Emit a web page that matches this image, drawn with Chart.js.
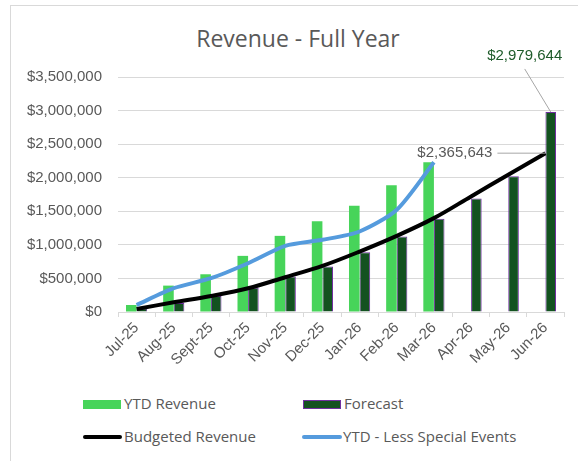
<!DOCTYPE html>
<html>
<head>
<meta charset="utf-8">
<script src="https://cdn.jsdelivr.net/npm/chart.js@4.4.1/dist/chart.umd.min.js"></script>
<style>
  body { margin: 0; background: #fff; }
  #wrap { position: relative; width: 578px; height: 461px; overflow: hidden; }
  #frame { position: absolute; left: 10px; top: 5px; width: 600px; height: 500px;
           border-left: 1px solid #d9d9d9; border-top: 1px solid #d9d9d9; }
  #chart { position: absolute; left: 0; top: 0; }
  #title { position: absolute; left: 98px; width: 400px; top: 22px; text-align: center;
           font-family: "Open Sans", sans-serif; font-size: 23px; line-height: 32px; color: #595959; }
  .lg { position: absolute; font-family: "Open Sans", sans-serif; font-size: 15px; color: #595959;
        line-height: 16px; white-space: nowrap; }
  .sw { position: absolute; }
</style>
</head>
<body>
<div id="wrap">
  <div id="frame"></div>
  <div id="title">Revenue - Full Year</div>
  <canvas id="chart" width="578" height="390"></canvas>
  <div id="legend"></div>
</div>
<script>
const months = ['Jul-25', 'Aug-25', 'Sept-25', 'Oct-25', 'Nov-25', 'Dec-25',
  'Jan-26', 'Feb-26', 'Mar-26', 'Apr-26', 'May-26', 'Jun-26'];
const ytdRevenue = [104000, 393000, 562000, 836000, 1134000, 1353000, 1582000, 1886000, 2229000, null, null, null];
const forecast = [55000, 135000, 239000, 363000, 527000, 676000, 891000, 1124000, 1388000, 1691000, 2020000, 2979644];
const budgeted = [45000, 145000, 239000, 354000, 518000, 687000, 900000, 1134000, 1398000, 1721000, 2045000, 2365643];
const lessEvents = [104000, 354000, 503000, 726000, 985000, 1075000, 1199000, 1522000, 2229000, null, null, null];
const yTicks = [0, 500000, 1000000, 1500000, 2000000, 2500000, 3000000, 3500000];

const money = v => '$' + Math.round(v).toLocaleString('en-US');
const tickFont = { family: '"Liberation Sans", Arial, sans-serif', size: 15 };

// callout labels for the last forecast bar and the last budget point
const callouts = {
  id: 'callouts',
  afterDatasetsDraw(chart) {
    const ctx = chart.ctx;
    const last = months.length - 1;
    const bar = chart.getDatasetMeta(1).data[last];
    const pt = chart.getDatasetMeta(2).data[last];
    ctx.save();
    ctx.font = '15px "Liberation Sans", Arial, sans-serif';
    ctx.strokeStyle = '#a6a6a6';
    ctx.lineWidth = 1;

    // forecast label
    ctx.beginPath();
    ctx.moveTo(bar.x - 26, bar.y - 43);
    ctx.lineTo(bar.x, bar.y);
    ctx.stroke();
    ctx.fillStyle = '#1e5b2a';
    ctx.textAlign = 'center';
    ctx.textBaseline = 'middle';
    ctx.fillText(money(forecast[last]), bar.x - 26, bar.y - 56);

    // budget label
    ctx.beginPath();
    ctx.moveTo(pt.x - 48, pt.y);
    ctx.lineTo(pt.x, pt.y);
    ctx.stroke();
    ctx.fillStyle = '#595959';
    ctx.textAlign = 'right';
    ctx.fillText(money(budgeted[last]), pt.x - 53, pt.y);
    ctx.restore();
  }
};

new Chart(document.getElementById('chart'), {
  type: 'bar',
  data: {
    labels: months,
    datasets: [
      { label: 'YTD Revenue', data: ytdRevenue, backgroundColor: '#47d45a', borderWidth: 0, order: 2 },
      { label: 'Forecast', data: forecast, backgroundColor: '#135220', borderColor: '#7030a0', borderWidth: 1, order: 3 },
      { type: 'line', label: 'Budgeted Revenue', data: budgeted, borderColor: '#000', borderWidth: 4,
        pointRadius: 0, tension: 0.35, order: 1 },
      { type: 'line', label: 'YTD - Less Special Events', data: lessEvents, borderColor: '#559bdd', borderWidth: 4,
        pointRadius: 0, tension: 0.25, order: 0 }
    ]
  },
  options: {
    responsive: false,
    animation: false,
    datasets: { bar: { categoryPercentage: 0.57, barPercentage: 1 } },
    layout: { padding: { left: 10, right: 14, top: 77, bottom: 0 } },
    plugins: {
      legend: { display: false },
      tooltip: { enabled: false },
      title: { display: false }
    },
    scales: {
      x: {
        grid: { drawOnChartArea: false, drawTicks: true, tickLength: 5, color: '#d9d9d9' },
        border: { color: '#d9d9d9' },
        ticks: { color: '#595959', font: tickFont, minRotation: 45, maxRotation: 45, padding: 2 },
        afterFit: s => { s.height = 78; }
      },
      y: {
        min: 0, max: 3500000,
        afterBuildTicks: s => { s.ticks = yTicks.map(v => ({ value: v })); },
        grid: { color: '#d9d9d9', drawTicks: false },
        border: { display: false },
        ticks: { color: '#595959', padding: 16, font: tickFont, callback: v => money(v) },
        afterFit: s => { s.width = 108; }
      }
    }
  },
  plugins: [callouts]
});

// legend below the plot
const legendItems = [
  { text: 'YTD Revenue', x: 83, y: 404, sw: 'left:83px;top:400px;width:38px;height:9px;background:#47d45a;' },
  { text: 'Forecast', x: 303, y: 404, sw: 'left:303px;top:400px;width:36px;height:7px;background:#135220;border:1px solid #7030a0;' },
  { text: 'Budgeted Revenue', x: 83, y: 437, sw: 'left:83px;top:435px;width:39px;height:4px;background:#000;border-radius:2px;' },
  { text: 'YTD - Less Special Events', x: 302, y: 437, sw: 'left:302px;top:435px;width:40px;height:4px;background:#559bdd;border-radius:2px;' }
];
const lg = document.getElementById('legend');
legendItems.forEach(it => {
  const s = document.createElement('div');
  s.className = 'sw';
  s.style.cssText = it.sw;
  lg.appendChild(s);
  const t = document.createElement('div');
  t.className = 'lg';
  t.style.left = (it.x + 41) + 'px';
  t.style.top = (it.y - 9) + 'px';
  t.textContent = it.text;
  lg.appendChild(t);
});
</script>
</body>
</html>
